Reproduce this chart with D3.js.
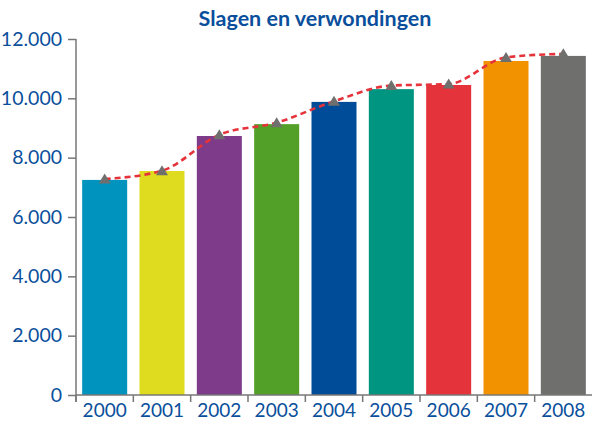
<!DOCTYPE html>
<html>
<head>
<meta charset="utf-8">
<style>
  body { margin: 0; background: #fff; }
  text { font-family: Lato, "Open Sans", sans-serif; }
</style>
</head>
<body>
<svg id="chart" width="592" height="421"></svg>
<script src="https://cdnjs.cloudflare.com/ajax/libs/d3/7.8.5/d3.min.js"></script>
<script>
var years = ['2000', '2001', '2002', '2003', '2004', '2005', '2006', '2007', '2008'];
var barValues = [7250, 7550, 8730, 9130, 9880, 10310, 10450, 11260, 11430];
var lineValues = [7280, 7560, 8770, 9180, 9900, 10430, 10480, 11380, 11500];
var barColors = ['#0093be', '#dfdc1f', '#7e3b8a', '#52a028', '#004c99', '#009580', '#e5333b', '#f39200', '#6f6f6e'];
var yTicks = [0, 2000, 4000, 6000, 8000, 10000, 12000];
var title = 'Slagen en verwondingen';

var svg = d3.select('#chart');
var blue = '#0a4f9c';
var axisGrey = '#777';

var x = d3.scaleBand().domain(years).range([76, 592])
  .paddingInner(0.215).paddingOuter(0.1075);
var y = d3.scaleLinear().domain([0, 12000]).range([395, 39]);

// title
svg.append('text')
  .attr('x', 315).attr('y', 26)
  .attr('text-anchor', 'middle')
  .style('font-size', '21.5px').style('font-weight', 'bold')
  .attr('fill', blue)
  .text(title);

// bars
svg.selectAll('rect.bar').data(years).enter().append('rect')
  .attr('class', 'bar')
  .attr('x', function(d) { return x(d); })
  .attr('width', x.bandwidth())
  .attr('y', function(d, i) { return y(barValues[i]); })
  .attr('height', function(d, i) { return y(0) - y(barValues[i]); })
  .attr('fill', function(d, i) { return barColors[i]; });

// y axis
var yAxis = svg.append('g')
  .attr('transform', 'translate(76,0)')
  .call(d3.axisLeft(y).tickValues(yTicks).tickSize(8).tickPadding(6)
    .tickFormat(function(d) { return d3.format(',')(d).replace(/,/g, '.'); }));
yAxis.select('.domain').attr('stroke', axisGrey).attr('stroke-width', 1.5).attr('d', 'M0,39V402');
yAxis.selectAll('.tick line').attr('stroke', axisGrey).attr('stroke-width', 1.5);
yAxis.selectAll('.tick text').attr('fill', blue).style('font-size', '19.5px');

// x axis: labels centred on bars, tick marks between the bars
var xAxis = svg.append('g')
  .attr('transform', 'translate(0,395)')
  .call(d3.axisBottom(x).tickSize(0).tickPadding(9));
xAxis.select('.domain').attr('stroke', axisGrey).attr('stroke-width', 1.5).attr('d', 'M76,0H592');
xAxis.selectAll('.tick text').attr('fill', blue).style('font-size', '19px');
var gap = (x.step() - x.bandwidth()) / 2;
xAxis.selectAll('line.sep').data(years).enter().append('line')
  .attr('class', 'sep')
  .attr('x1', function(d) { return x(d) - gap; })
  .attr('x2', function(d) { return x(d) - gap; })
  .attr('y1', 0).attr('y2', 7)
  .attr('stroke', axisGrey).attr('stroke-width', 1.5);

// dashed trend line
var cx = function(d, i) { return x(years[i]) + x.bandwidth() / 2; };
var line = d3.line()
  .x(function(d, i) { return cx(d, i); })
  .y(function(d) { return y(d); })
  .curve(d3.curveMonotoneX);
svg.append('path')
  .datum(lineValues)
  .attr('d', line)
  .attr('fill', 'none')
  .attr('stroke', '#e5333b')
  .attr('stroke-width', 2.6)
  .attr('stroke-dasharray', '6,4');

// triangle markers
svg.selectAll('path.mark').data(lineValues).enter().append('path')
  .attr('class', 'mark')
  .attr('transform', function(d, i) { return 'translate(' + cx(d, i) + ',' + y(d) + ')'; })
  .attr('d', 'M0,-5.5L6,4.5L-6,4.5Z')
  .attr('fill', '#6f6f6e');
</script>
</body>
</html>
